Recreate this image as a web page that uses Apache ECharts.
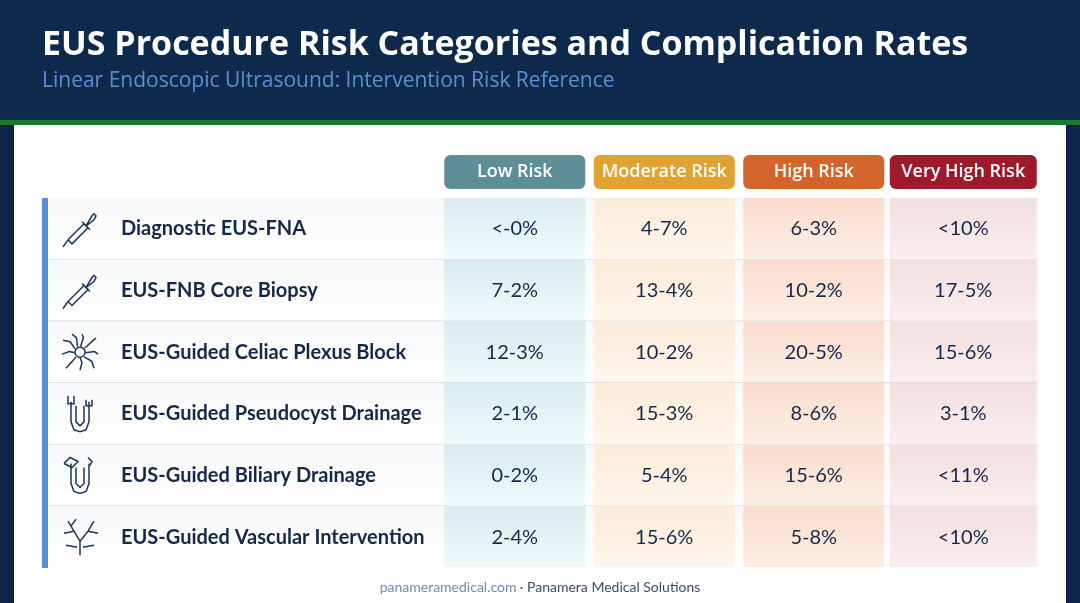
<!DOCTYPE html>
<html><head><meta charset="utf-8">
<script src="https://cdn.jsdelivr.net/npm/echarts@6/dist/echarts.min.js"></script>
<style>html,body{margin:0;padding:0;background:#0c2448}#c{width:1080px;height:603px}</style>
</head><body><div id="c"></div>
<script>
var riskLevels = ['Low Risk', 'Moderate Risk', 'High Risk', 'Very High Risk'];
var procedures = ['Diagnostic EUS-FNA', 'EUS-FNB Core Biopsy', 'EUS-Guided Celiac Plexus Block',
  'EUS-Guided Pseudocyst Drainage', 'EUS-Guided Biliary Drainage', 'EUS-Guided Vascular Intervention'];
var lowRisk = ['<-0%', '7-2%', '12-3%', '2-1%', '0-2%', '2-4%'];
var moderateRisk = ['4-7%', '13-4%', '10-2%', '15-3%', '5-4%', '15-6%'];
var highRisk = ['6-3%', '10-2%', '20-5%', '8-6%', '15-6%', '5-8%'];
var veryHighRisk = ['<10%', '17-5%', '15-6%', '3-1%', '<11%', '<10%'];
var icons = ['dropper', 'dropper', 'nerve', 'tube', 'tube2', 'vessel'];

var pillColors = ['#5e8f99', '#e0a332', '#d4652a', '#9e1a2a'];
var cellTop = ['#d9ebee', '#fcebd9', '#fadccc', '#f3dfe0'];
var cellBot = ['#f0fbfb', '#fff6ec', '#fdeee4', '#fbeeee'];

var cols = [lowRisk, moderateRisk, highRisk, veryHighRisk];
var cellData = [];
cols.forEach(function (col, ci) {
  col.forEach(function (v, ri) { cellData.push([ci, ri, v]); });
});
var rowData = procedures.map(function (p, i) { return [0, i, icons[i]]; });

function iconShape(kind, x, y) {
  var s = {stroke: '#1d3557', lineWidth: 1.5, fill: null};
  var kids = [];
  function pl(pts) { kids.push({type: 'polyline', shape: {points: pts.map(function (p) { return [x + p[0], y + p[1]]; })}, style: s}); }
  function circ(cx, cy, r) { kids.push({type: 'circle', shape: {cx: x + cx, cy: y + cy, r: r}, style: s}); }
  if (kind === 'dropper') {
    pl([[-17, 18], [-12, 11]]);
    pl([[-12, 11], [4, -5], [8, -1], [-8, 15], [-12, 11]]);
    pl([[2, -7], [10, 1]]);
    pl([[6, -3], [12, -13], [14, -15], [16, -13], [14, -9], [6, -3]]);
  } else if (kind === 'nerve') {
    circ(0, 0, 5);
    [[-17, -12], [-18, 2], [-14, 16], [0, 18], [14, 16], [18, 2], [16, -14], [2, -18], [-8, -18]].forEach(function (p) {
      pl([[p[0] * 0.3, p[1] * 0.3], [p[0] * 0.7 + 2, p[1] * 0.7 - 2], [p[0], p[1]]]);
    });
  } else if (kind === 'tube' || kind === 'tube2') {
    pl([[-9, -12], [-9, 8], [-6, 16], [0, 18], [6, 16], [9, 8], [9, -12]]);
    pl([[-4, -8], [-4, 8], [0, 12], [4, 8], [4, -8]]);
    if (kind === 'tube') { pl([[-12, -18], [-12, -10], [-6, -10], [-6, -18]]); pl([[6, -14], [6, -8], [12, -8], [12, -14]]); }
    else { pl([[-16, -12], [-10, -18], [-2, -14], [-8, -8], [-16, -12]]); pl([[8, -18], [12, -14], [10, -10]]); }
  } else {
    pl([[0, 18], [0, 4], [-6, -6], [-12, -16]]);
    pl([[0, 4], [8, -6], [14, -16]]);
    pl([[-6, -6], [-16, -4]]);
    pl([[8, -6], [18, -4]]);
    pl([[-3, 10], [-14, 8]]);
    pl([[3, 10], [14, 8]]);
    pl([[-9, -11], [-4, -18]]);
  }
  return kids;
}

var chart = echarts.init(document.getElementById('c'));
chart.setOption({
  backgroundColor: '#0c2448',
  graphic: [
    {type: 'rect', shape: {x: 0, y: 0, width: 1080, height: 120}, style: {fill: '#0d2a4d'}, z: -10},
    {type: 'rect', shape: {x: 0, y: 120, width: 1080, height: 5}, style: {fill: '#1c7a2c'}, z: -10},
    {type: 'rect', shape: {x: 14, y: 125, width: 1052, height: 478}, style: {fill: '#ffffff'}, z: -10},
    {type: 'rect', shape: {x: 42, y: 198, width: 6, height: 370}, style: {fill: '#5b8ed8'}, z: 5},
    {type: 'text', x: 42, y: 45, style: {text: 'EUS Procedure Risk Categories and Complication Rates', fill: '#ffffff',
      font: 'bold 34px "Open Sans", sans-serif', verticalAlign: 'middle'}},
    {type: 'text', x: 42, y: 81, style: {text: 'Linear Endoscopic Ultrasound: Intervention Risk Reference', fill: '#5b8fd6',
      font: '21px "Open Sans", sans-serif', verticalAlign: 'middle'}},
    {type: 'text', x: 540, y: 587, style: {text: '{a|panameramedical.com} {b|· Panamera Medical Solutions}', align: 'center', verticalAlign: 'middle',
      rich: {a: {fill: '#6a8cb8', font: '14px Lato, sans-serif'}, b: {fill: '#3d4d63', font: '14px Lato, sans-serif'}}}}
  ],
  grid: {left: 440, right: 42, top: 198, bottom: 35},
  xAxis: {
    type: 'category', data: riskLevels, position: 'top', z: 10,
    axisLine: {show: false}, axisTick: {show: false}, splitLine: {show: false},
    axisLabel: {
      margin: 9,
      formatter: function (v, i) { return '{p' + i + '|' + v + '}'; },
      rich: (function () {
        var r = {};
        pillColors.forEach(function (c, i) {
          r['p' + i] = {backgroundColor: c, color: '#fff', width: i === 3 ? 147 : 141, height: 34, align: 'center',
            borderRadius: 6, fontSize: 18, fontWeight: 600, fontFamily: '"Open Sans", sans-serif'};
        });
        return r;
      })()
    }
  },
  yAxis: {
    type: 'category', data: procedures, inverse: true, z: 10,
    axisLine: {show: false}, axisTick: {show: false}, splitLine: {show: false},
    axisLabel: {align: 'left', margin: 319, color: '#14294a', fontSize: 20, fontWeight: 'bold', fontFamily: 'Lato, sans-serif'}
  },
  series: [
    {
      type: 'custom', data: rowData, z: 1, silent: true,
      renderItem: function (params, api) {
        var p = api.coord([0, api.value(1)]);
        var sz = api.size([1, 1]);
        var top = p[1] - sz[1] / 2;
        var kids = [
          {type: 'rect', shape: {x: 48, y: top, width: 990, height: sz[1]},
            style: {fill: {type: 'linear', x: 0, y: 0, x2: 0, y2: 1, colorStops: [{offset: 0, color: '#f7f8f9'}, {offset: 1, color: '#ffffff'}]}}},
          {type: 'rect', shape: {x: 48, y: top + sz[1] - 1, width: 990, height: 1}, style: {fill: '#dde1e6'}, z2: 10}
        ];
        if (api.value(1) === procedures.length - 1) kids.pop();
        kids = kids.concat(iconShape(rowData[params.dataIndex][2], 80, p[1]));
        return {type: 'group', children: kids};
      }
    },
    {
      type: 'custom', data: cellData, z: 2,
      renderItem: function (params, api) {
        var ci = api.value(0);
        var p = api.coord([ci, api.value(1)]);
        var sz = api.size([1, 1]);
        var w = ci === 3 ? 147 : 141;
        return {
          type: 'group', children: [
            {type: 'rect', shape: {x: p[0] - w / 2, y: p[1] - sz[1] / 2, width: w, height: sz[1] - 1},
              style: {fill: {type: 'linear', x: 0, y: 0, x2: 0, y2: 1, colorStops: [{offset: 0, color: cellTop[ci]}, {offset: 1, color: cellBot[ci]}]}}},
            {type: 'text', x: p[0], y: p[1], style: {text: cellData[params.dataIndex][2], fill: '#14294a', align: 'center', verticalAlign: 'middle',
              font: '20px Lato, sans-serif'}}
          ]
        };
      }
    }
  ]
});
</script></body></html>
